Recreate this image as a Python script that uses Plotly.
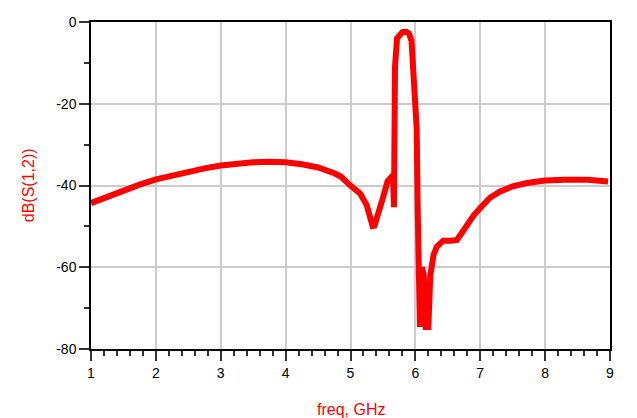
import plotly.graph_objects as go

freq = [1.0, 1.25, 1.5, 1.75, 2.0, 2.25, 2.5, 2.75, 3.0, 3.25, 3.5, 3.75, 4.0, 4.25, 4.5,
        4.75, 4.85, 4.99, 5.15, 5.25, 5.30, 5.34, 5.37, 5.42, 5.5, 5.57, 5.62, 5.655, 5.67,
        5.675, 5.686, 5.717, 5.76, 5.8, 5.86, 5.9, 5.94, 5.96, 5.99, 6.02, 6.035, 6.045,
        6.07, 6.10, 6.13, 6.16, 6.20, 6.23, 6.28, 6.33, 6.43, 6.55, 6.64, 6.72, 6.80,
        6.90, 7.0, 7.15, 7.3, 7.5, 7.72, 8.0, 8.3, 8.65, 8.97]
s12_db = [-44.3, -42.7, -41.2, -39.8, -38.5, -37.5, -36.6, -35.8, -35.1, -34.6, -34.3, -34.2,
          -34.3, -34.8, -35.6, -37.0, -37.8, -39.9, -42.0, -44.8, -47.8, -49.9, -49.8, -47.5,
          -43.0, -39.0, -37.8, -37.5, -45.3, -30.0, -11.0, -4.0, -3.0, -2.5, -2.4, -2.8, -4.5,
          -11.0, -19.6, -26.0, -45.0, -56.0, -74.6, -60.0, -62.0, -74.6, -74.6, -62.0, -57.0,
          -55.0, -53.5, -53.5, -53.3, -51.5, -49.5, -47.3, -45.5, -43.0, -41.5, -40.2, -39.4,
          -38.8, -38.6, -38.6, -39.0]

x_ticks = [1, 2, 3, 4, 5, 6, 7, 8, 9]
x_labels = ["1", "2", "3", "4", "5", "6", "7", "8", "9"]
y_ticks = [0, -20, -40, -60, -80]
y_labels = ["0", "-20", "-40", "-60", "-80"]

fig = go.Figure()
fig.add_trace(go.Scatter(x=freq, y=s12_db, mode="lines",
                         line=dict(color="#ff0000", width=6), showlegend=False))

axis_common = dict(showline=True, linecolor="black", linewidth=1.5, mirror=True,
                   ticks="outside", ticklen=10, tickcolor="#333", tickwidth=1.5,
                   showgrid=True, gridcolor="#cccccc", gridwidth=1.5, zeroline=False,
                   automargin=False,
                   tickfont=dict(family="Arial, Liberation Sans", size=14, color="black"))

fig.update_xaxes(range=[1, 9], tickvals=x_ticks, ticktext=x_labels, **axis_common,
                 minor=dict(dtick=0.2, ticklen=5, tickcolor="#333", tickwidth=1.5,
                            showgrid=False, ticks="outside"))
fig.update_yaxes(range=[-80, 0], tickvals=y_ticks, ticktext=y_labels, **axis_common,
                 minor=dict(dtick=10, ticklen=5, tickcolor="#333", tickwidth=1.5,
                            showgrid=False, ticks="outside"))

fig.update_layout(
    width=629, height=410,
    margin=dict(l=83, r=27, t=14, b=69),
    plot_bgcolor="white", paper_bgcolor="white",
    annotations=[
        dict(text="dB(S(1,2))", xref="paper", yref="paper", x=-0.12, y=0.5,
             xanchor="center", yanchor="middle", textangle=-90, showarrow=False,
             font=dict(family="Arial, Liberation Sans", size=16, color="#ff0000")),
        dict(text="freq, GHz", xref="paper", yref="paper", x=0.5, y=-0.185,
             xanchor="center", yanchor="middle", showarrow=False,
             font=dict(family="Arial, Liberation Sans", size=16, color="#ff0000")),
    ],
)

fig.write_html("out.html")
